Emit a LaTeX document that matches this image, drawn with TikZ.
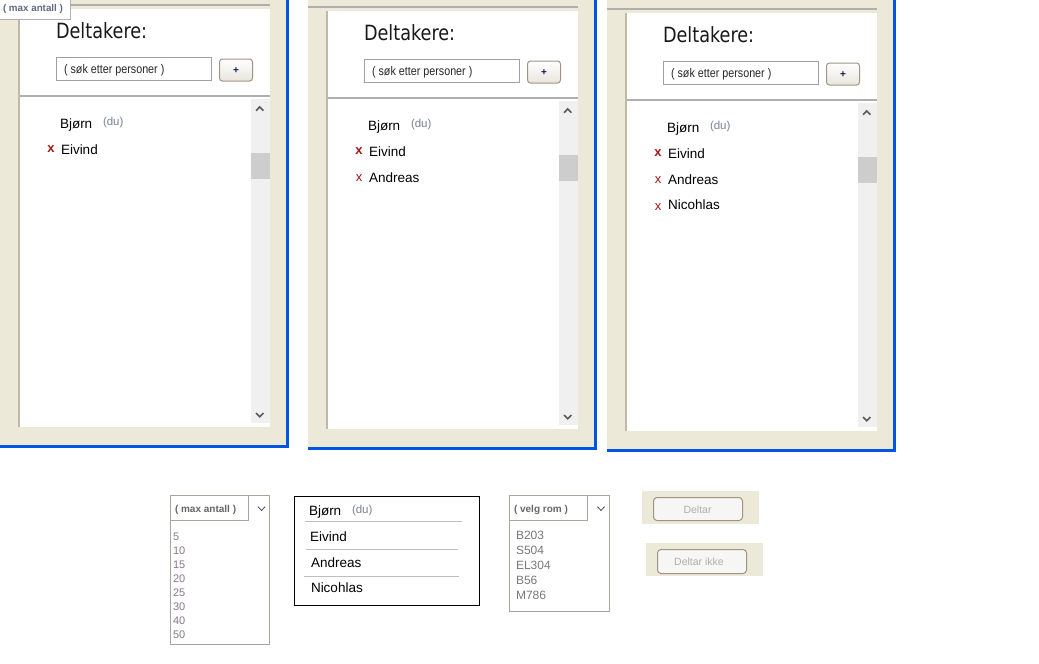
\documentclass[tikz,border=0pt]{standalone}
\usepackage{fontspec}
\setmainfont{Liberation Sans}
\newfontfamily\titlefont{DejaVu Sans}
\usetikzlibrary{positioning}

\definecolor{panelbg}{RGB}{236,233,216}
\definecolor{xpblue}{RGB}{0,85,229}
\definecolor{edgegray}{RGB}{190,186,168}
\definecolor{linegray}{RGB}{175,175,175}
\definecolor{boxgray}{RGB}{160,160,160}
\definecolor{scrollbg}{RGB}{240,240,240}
\definecolor{thumbgray}{RGB}{205,205,205}
\definecolor{arrowgray}{RGB}{90,90,90}
\definecolor{dugray}{RGB}{120,130,150}
\definecolor{kryssred}{RGB}{165,20,20}
\definecolor{tabblue}{RGB}{95,108,128}
\definecolor{btnedge}{RGB}{160,148,132}
\definecolor{dropedge}{RGB}{170,165,155}
\definecolor{numgray}{RGB}{135,120,140}
\definecolor{romgray}{RGB}{120,120,120}
\definecolor{deltargray}{RGB}{175,175,175}
\definecolor{plussnavy}{RGB}{20,20,80}

\tikzset{
  px/.style={inner sep=0pt, outer sep=0pt, anchor=base west},
  tittel/.style={px, font=\titlefont\fontsize{21}{25}\selectfont, xscale=0.84, text=black!90},
  sok/.style={px, font=\fontsize{12.5}{15}\selectfont, xscale=0.86, text=black!85},
  navn/.style={px, font=\fontsize{13.5}{16}\selectfont, text=black},
  du/.style={px, font=\fontsize{11.5}{14}\selectfont, text=dugray},
  kryss/.style={inner sep=0pt, font=\fontsize{13}{15}\selectfont, text=kryssred},
  kryssfet/.style={kryss, font=\bfseries\fontsize{13}{15}\selectfont},
  fane/.style={px, font=\bfseries\fontsize{9.8}{12}\selectfont, text=tabblue},
  nedtekst/.style={px, font=\bfseries\fontsize{10}{12}\selectfont, text=black!60},
  tall/.style={px, font=\fontsize{11}{13}\selectfont, text=numgray},
  romtekst/.style={px, font=\fontsize{12}{14}\selectfont, text=romgray},
  knapptekst/.style={inner sep=0pt, font=\fontsize{10.5}{13}\selectfont, text=deltargray},
  pluss/.style={inner sep=0pt, font=\bfseries\fontsize{10}{12}\selectfont, text=plussnavy},
  sokefelt/.style={draw=boxgray, line width=1pt, fill=white},
  plussknapp/.style={draw=btnedge, line width=1pt, rounded corners=3pt, top color=white, bottom color={rgb,255:red,232;green,229;blue,220}},
  knapp/.style={draw=btnedge, line width=1pt, rounded corners=3.5pt, fill={rgb,255:red,246;green,246;blue,244}},
  chevron/.style={draw=arrowgray, line width=1.6pt},
  nedpil/.style={draw=black!70, line width=0.8pt},
  skille/.style={draw={rgb,255:red,190;green,190;blue,190}, line width=1pt},
}

\begin{document}
\begin{tikzpicture}[x=1pt, y=-1pt]
\useasboundingbox (0,0) rectangle (1039,664);

% three participant panels
\foreach \p/\dx/\dy/\antall in {1/0/0/1, 2/308/2/2, 3/607/4/3}{
\begin{scope}[shift={(\dx,\dy)}]
  \fill[panelbg] (0,-\dy) rectangle (289,448);
  \draw[xpblue, line width=3pt] (287.5,-\dy) -- (287.5,446.5) -- (0,446.5);
  \draw[linegray, line width=1.5pt] (0,5) -- (270,5);
  \fill[white] (20,9) rectangle (270,427);
  \draw[edgegray, line width=2pt] (19,9) -- (19,427);
  \draw[linegray, line width=1.5pt] (20,96) -- (270,96);
  \node[tittel] (tittel-\p) at (56,38) {Deltakere:};
  \draw[sokefelt] (56.5,57.5) rectangle (211.5,80);
  \node[sok] (sok-\p) at (64,73) {( søk etter personer )};
  \draw[plussknapp] (219.5,59) rectangle (252.5,81);
  \node[pluss] (pluss-\p) at (236,70.5) {+};
  % scrollbar
  \fill[scrollbg] (251,99) rectangle (270,423);
  \fill[thumbgray] (251,153) rectangle (270,179);
  \draw[chevron] (256,110.7) -- (259.7,106.9) -- (263.4,110.7);
  \draw[chevron] (256,413) -- (259.7,416.8) -- (263.4,413);
  % names
  \node[navn] (bjorn-\p) at (60,128) {Bjørn};
  \node[du] (du-\p) at (103,125.5) {(du)};
  \foreach \navn/\k/\y/\ky in {Eivind/1/154.5/149, Andreas/2/180/176, Nicohlas/3/205/203}{
    \ifnum\k>\antall\relax\else
      \node[navn] (navn-\p-\k) at (61,\y) {\navn};
      \ifnum\k=1
        \node[kryssfet] (kryss-\p-\k) at (51,\ky) {x};
      \else
        \node[kryss] (kryss-\p-\k) at (51,\ky) {x};
      \fi
    \fi
  }
\end{scope}
}

% tab in the corner
\fill[white] (0,0) rectangle (70,19);
\draw[linegray, line width=1pt] (0,19) -- (70,19) -- (70,0);
\node[fane] (fane) at (3,11.5) {( max antall )};

% dropdown: max antall
\draw[dropedge, line width=1pt] (170.5,495.5) rectangle (269.5,644.5);
\draw[dropedge, line width=1pt] (170.5,520) -- (248,520) -- (248,495.5);
\draw[nedpil] (258,506.7) -- (261.5,510.5) -- (265,506.7);
\node[nedtekst] (antall) at (175,512) {( max antall )};
\foreach \tall [count=\i] in {5,10,15,20,25,30,40,50}
  \node[tall] (tall-\i) at (173,526+14*\i) {\tall};

% list of names
\draw[black, line width=1pt] (294.5,496.5) rectangle (479.5,605.5);
\node[navn] (liste-bjorn) at (309,515) {Bjørn};
\node[du] (liste-du) at (352,513) {(du)};
\draw[skille] (305,521) -- (462,521);
\node[navn] (liste-1) at (310,541) {Eivind};
\draw[skille] (306,549) -- (458,549);
\node[navn] (liste-2) at (311,567) {Andreas};
\draw[skille] (304,576) -- (459,576);
\node[navn] (liste-3) at (311,592) {Nicohlas};

% dropdown: velg rom
\draw[dropedge, line width=1pt] (509.5,495.5) rectangle (609.5,611.5);
\draw[dropedge, line width=1pt] (509.5,520) -- (587,520) -- (587,495.5);
\draw[nedpil] (597.5,506.7) -- (601,510.5) -- (604.5,506.7);
\node[nedtekst] (rom) at (514,512) {( velg rom )};
\foreach \rom [count=\i] in {B203,S504,EL304,B56,M786}
  \node[romtekst] (rom-\i) at (516,524+15*\i) {\rom};

% buttons
\fill[panelbg] (642,491) rectangle (759,524);
\draw[knapp] (653.5,497.5) rectangle (742.5,520.5);
\node[knapptekst] (deltar) at (697.5,509.5) {Deltar};
\fill[panelbg] (646,543) rectangle (763,576);
\draw[knapp] (657.5,549.5) rectangle (746.5,573.5);
\node[knapptekst] (deltar-ikke) at (699,562) {Deltar ikke};
\end{tikzpicture}
\end{document}
